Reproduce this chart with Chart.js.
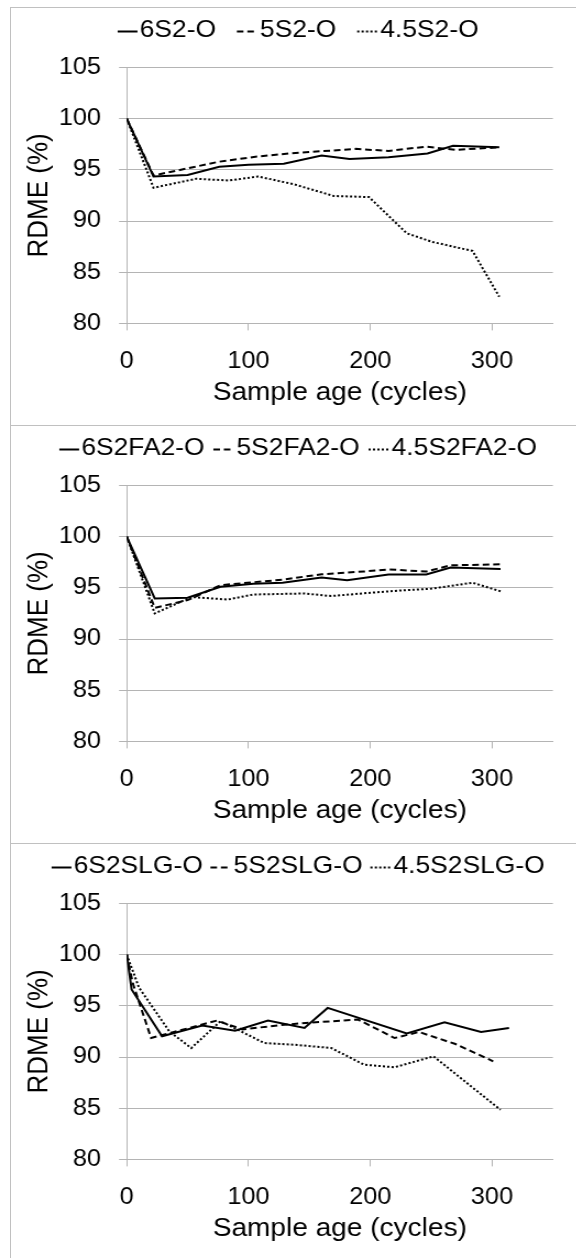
<!DOCTYPE html>
<html>
<head>
<meta charset="utf-8">
<script src="https://cdn.jsdelivr.net/npm/chart.js@4.4.0/dist/chart.umd.min.js"></script>
<style>
  html, body { margin: 0; padding: 0; background: #fff; overflow: hidden; width: 576px; height: 1258px; }
  .panel { position: absolute; left: 10px; width: 566px; height: 417px;
           border-top: 1px solid #c0c0c0; border-left: 1px solid #c0c0c0; overflow: hidden; }
  /* the figure is drawn slightly widened, as in the printed layout */
  .stretch { width: 514px; height: 417px; transform: scaleX(1.1); transform-origin: 0 0; }
  .stretch canvas { display: block; }
</style>
</head>
<body>
<div class="panel" style="top:7px"><div class="stretch"><canvas id="chartS2" width="514" height="417"></canvas></div></div>
<div class="panel" style="top:425px"><div class="stretch"><canvas id="chartFA2" width="514" height="417"></canvas></div></div>
<div class="panel" style="top:843px"><div class="stretch"><canvas id="chartSLG" width="514" height="417"></canvas></div></div>
<script>
// Axis ticks
const ageTicks = [0, 100, 200, 300];
const rdmeTicks = [80, 85, 90, 95, 100, 105];

// Series labels
const labelsS2  = ['6S2-O', '5S2-O', '4.5S2-O'];
const labelsFA2 = ['6S2FA2-O', '5S2FA2-O', '4.5S2FA2-O'];
const labelsSLG = ['6S2SLG-O', '5S2SLG-O', '4.5S2SLG-O'];

// S2-O mixes: sample age (cycles) and RDME (%)
const agesS2_6  = [0, 22, 50, 76, 100, 129, 160, 183, 215, 247, 268, 306];
const rdmeS2_6  = [100, 94.35, 94.5, 95.3, 95.5, 95.6, 96.4, 96.05, 96.23, 96.6, 97.35, 97.2];
const agesS2_5  = [0, 22, 48, 76, 107, 133, 160, 188, 215, 246, 270, 306];
const rdmeS2_5  = [100, 94.45, 95.1, 95.8, 96.3, 96.6, 96.82, 97.05, 96.85, 97.27, 96.95, 97.2];
const agesS2_45 = [0, 22, 57, 84, 108, 137, 170, 199, 230, 251, 284, 306];
const rdmeS2_45 = [100, 93.25, 94.13, 93.96, 94.35, 93.6, 92.45, 92.34, 88.8, 87.96, 87.08, 82.6];

// S2FA2-O mixes
const agesFA2_6  = [0, 23, 50, 77, 104, 128, 160, 181, 215, 246, 266, 307];
const rdmeFA2_6  = [100, 93.96, 94.03, 95.1, 95.4, 95.5, 96.0, 95.75, 96.3, 96.3, 96.98, 96.85];
const agesFA2_5  = [0, 23, 50, 77, 104, 128, 160, 195, 215, 246, 266, 307];
const rdmeFA2_5  = [100, 93.05, 93.8, 95.26, 95.55, 95.8, 96.33, 96.6, 96.8, 96.6, 97.2, 97.3];
const agesFA2_45 = [0, 23, 53, 83, 104, 146, 168, 198, 228, 249, 284, 307];
const rdmeFA2_45 = [100, 92.5, 94.1, 93.86, 94.35, 94.45, 94.2, 94.5, 94.77, 94.9, 95.5, 94.67];

// S2SLG-O mixes
const agesSLG_6  = [0, 4, 29, 62, 89, 116, 146, 165, 230, 261, 291, 314];
const rdmeSLG_6  = [100, 96.6, 92.03, 93.07, 92.58, 93.56, 92.84, 94.8, 92.3, 93.4, 92.45, 92.84];
const agesSLG_5  = [0, 5, 20, 74, 95, 125, 147, 190, 220, 240, 270, 301];
const rdmeSLG_5  = [100, 97.2, 91.86, 93.56, 92.7, 93.1, 93.33, 93.66, 91.86, 92.45, 91.27, 89.58];
const agesSLG_45 = [0, 10, 35, 53, 77, 113, 138, 168, 195, 220, 252, 307];
const rdmeSLG_45 = [100, 96.8, 92.5, 90.88, 93.5, 91.37, 91.2, 90.88, 89.25, 89.0, 90.07, 84.84];

const FONT = '"Liberation Sans", Arial, sans-serif';
const TICK_SIZE = 23;
const LEGEND_SIZE = 24;
const TITLE_SIZE = 25.5;
const GRID = '#b4b4b4';
const LINE_STYLES = [
  { dash: [], width: 2, sample: 18 },
  { dash: [6, 3.5], width: 2, sample: 19 },
  { dash: [2, 2], width: 2, sample: 19 }
];

// Legend drawn as one centred row: short line sample followed by its label
const lineLegend = {
  id: 'lineLegend',
  afterDraw(chart, args, opts) {
    const ctx = chart.ctx;
    ctx.save();
    ctx.font = LEGEND_SIZE + 'px ' + FONT;
    const items = chart.data.datasets.map((ds, i) => ({ ds, len: LINE_STYLES[i].sample, w: ctx.measureText(ds.label).width }));
    const total = items.reduce((s, it) => s + it.len + opts.textGap + it.w, 0) + opts.gap * (items.length - 1);
    let x = opts.centerX - total / 2;
    const y = opts.y;
    items.forEach(it => {
      ctx.beginPath();
      ctx.setLineDash(it.ds.borderDash || []);
      ctx.lineWidth = it.ds.borderWidth;
      ctx.strokeStyle = it.ds.borderColor;
      ctx.moveTo(x, y + 1);
      ctx.lineTo(x + it.len, y + 1);
      ctx.stroke();
      ctx.setLineDash([]);
      x += it.len + opts.textGap;
      ctx.fillStyle = '#000';
      ctx.textBaseline = 'middle';
      ctx.textAlign = 'left';
      ctx.fillText(it.ds.label, x, y);
      x += it.w + opts.gap;
    });
    ctx.restore();
  }
};

function makeChart(id, labels, ages, values, legendGap) {
  const datasets = labels.map((label, i) => ({
    label,
    data: ages[i].map((a, j) => ({ x: a, y: values[i][j] })),
    borderColor: '#000',
    borderWidth: LINE_STYLES[i].width,
    borderDash: LINE_STYLES[i].dash,
    borderCapStyle: 'butt',
    pointRadius: 0,
    tension: 0,
    fill: false
  }));
  const tickFont = { family: FONT, size: TICK_SIZE };
  const titleFont = { family: FONT, size: TITLE_SIZE };
  return new Chart(document.getElementById(id), {
    type: 'line',
    data: { datasets },
    plugins: [lineLegend],
    options: {
      responsive: false,
      animation: false,
      events: [],
      layout: { padding: { top: 59.5, left: 0, right: 21.4, bottom: 0 } },
      plugins: {
        legend: { display: false },
        tooltip: { enabled: false },
        lineLegend: { centerX: 261, y: 22.5, textGap: 2, gap: legendGap }
      },
      scales: {
        x: {
          type: 'linear', min: 0, max: 350,
          afterBuildTicks: s => { s.ticks = ageTicks.map(v => ({ value: v })); },
          afterFit: s => { s.height = 101.6; },
          grid: { drawOnChartArea: false, drawTicks: true, tickLength: 7, color: GRID, lineWidth: 1 },
          border: { display: true, color: GRID, width: 1 },
          ticks: { padding: 17.8, font: tickFont, color: '#000', maxRotation: 0, autoSkip: false },
          title: { display: true, text: 'Sample age (cycles)', font: titleFont, color: '#000', padding: { top: 0, bottom: 16.7 } }
        },
        y: {
          type: 'linear', min: 80, max: 105,
          afterBuildTicks: s => { s.ticks = rdmeTicks.map(v => ({ value: v })); },
          afterFit: s => { s.width = 105.2; },
          grid: { drawTicks: true, tickLength: 7, color: GRID, lineWidth: 1 },
          border: { display: true, color: GRID, width: 1 },
          ticks: { padding: 16.4, font: tickFont, color: '#000' },
          title: { display: true, text: 'RDME (%)', font: { family: FONT, size: 26 }, color: '#000', padding: { top: 10.5, bottom: 0 } }
        }
      }
    }
  });
}

makeChart('chartS2', labelsS2, [agesS2_6, agesS2_5, agesS2_45], [rdmeS2_6, rdmeS2_5, rdmeS2_45], 19);
makeChart('chartFA2', labelsFA2, [agesFA2_6, agesFA2_5, agesFA2_45], [rdmeFA2_6, rdmeFA2_5, rdmeFA2_45], 8);
makeChart('chartSLG', labelsSLG, [agesSLG_6, agesSLG_5, agesSLG_45], [rdmeSLG_6, rdmeSLG_5, rdmeSLG_45], 7);
</script>
</body>
</html>
